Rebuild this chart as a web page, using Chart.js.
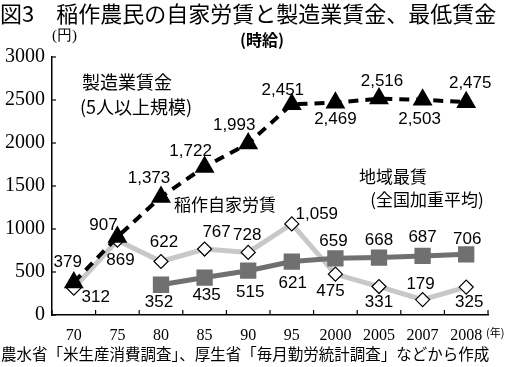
<!DOCTYPE html>
<html>
<head>
<meta charset="utf-8">
<script src="https://cdn.jsdelivr.net/npm/chart.js@4"></script>
<style>
  body { margin: 0; background: #fff; }
  canvas { display: block; }
</style>
</head>
<body>
<canvas id="grafico" width="506" height="367"></canvas>
<script>
const anios = ['70', '75', '80', '85', '90', '95', '2000', '2005', '2007', '2008'];
const seizogyo = [379, 907, 1373, 1722, 1993, 2451, 2469, 2516, 2503, 2475];
const inasaku = [312, 869, 622, 767, 728, 1059, 475, 331, 179, 325];
const saichin = [null, null, 352, 435, 515, 621, 659, 668, 687, 706];
const yTicks = [0, 500, 1000, 1500, 2000, 2500, 3000];

// dónde va cada etiqueta respecto a su punto (dx, dy)
const offSeizo = [[-6, -20], [-14, -12], [-12, -19], [-14, -16], [-14, -18], [-9, -14], [0, 17], [3, -17], [-3, 20], [4, -19]];
const offIna = [[22, 9], [3, 20], [3, -19], [12, -17], [-1, -17], [25, -10], [-5, 17], [0, 16], [-2, -15], [3, 15]];
const offSai = [null, null, [-2, 18], [2, 18], [2, 22], [1, 22], [-2, -17], [0, -17], [0, -19], [1, -15]];

const jp = '"Noto Sans CJK JP", sans-serif';
const fmt = v => v.toLocaleString('en-US');

const textos = {
  id: 'textos',
  afterDraw(chart) {
    const ctx = chart.ctx;
    const x = chart.scales.x, y = chart.scales.y;
    const a = chart.chartArea;
    ctx.save();
    ctx.strokeStyle = '#000';
    ctx.lineWidth = 1.2;
    // marcas del eje y, hacia dentro
    yTicks.forEach(v => {
      const py = y.getPixelForValue(v);
      ctx.beginPath(); ctx.moveTo(a.left, py); ctx.lineTo(a.left + 4, py); ctx.stroke();
    });
    // marcas del eje x entre categorías
    for (let i = 0; i <= anios.length; i++) {
      const px = a.left + (a.right - a.left) * i / anios.length;
      ctx.beginPath(); ctx.moveTo(px, a.bottom); ctx.lineTo(px, a.bottom - 5); ctx.stroke();
    }

    ctx.fillStyle = '#000';
    ctx.textBaseline = 'middle';
    ctx.textAlign = 'left';
    ctx.font = '22px ' + jp;
    ctx.fillText('図3　稲作農民の自家労賃と製造業賃金、最低賃金', 0, 14);
    ctx.textAlign = 'center';
    ctx.font = 'bold 16px ' + jp;
    ctx.fillText('(時給)', 262, 40);
    ctx.textAlign = 'left';
    ctx.font = '15px "Liberation Serif", serif';
    ctx.fillText('(円)', 52, 36);
    ctx.font = '11px ' + jp;
    ctx.fillText('(年)', 486, 333);
    ctx.font = '15.5px ' + jp;
    ctx.fillText('農水省「米生産消費調査」、厚生省「毎月勤労統計調査」などから作成', 1, 354);

    ctx.font = '18px ' + jp;
    ctx.fillText('製造業賃金', 82, 82);
    ctx.fillText('(5人以上規模)', 80, 107);
    ctx.textAlign = 'center';
    ctx.font = '17px ' + jp;
    ctx.fillText('稲作自家労賃', 225, 205);
    ctx.fillText('地域最賃', 393, 177);
    ctx.fillText('(全国加重平均)', 427, 200);

    // etiquetas de valores
    ctx.font = '17px "Liberation Sans", Arial, sans-serif';
    const poner = (datos, offs) => {
      datos.forEach((v, i) => {
        if (v == null) return;
        const px = x.getPixelForValue(i), py = y.getPixelForValue(v);
        ctx.fillText(fmt(v), px + offs[i][0], py + offs[i][1]);
      });
    };
    poner(seizogyo, offSeizo);
    poner(inasaku, offIna);
    poner(saichin, offSai);
    ctx.restore();
  }
};

new Chart(document.getElementById('grafico'), {
  type: 'line',
  data: {
    labels: anios,
    datasets: [
      {
        label: '製造業賃金',
        data: seizogyo,
        borderColor: '#000',
        borderWidth: 4,
        borderDash: [10, 7],
        pointStyle: 'triangle',
        pointRadius: 7.5,
        pointBackgroundColor: '#000',
        pointBorderColor: '#000',
        order: 0
      },
      {
        label: '地域最賃',
        data: saichin,
        borderColor: '#707070',
        borderWidth: 5,
        pointStyle: 'rect',
        pointRadius: 8,
        pointBackgroundColor: '#707070',
        pointBorderColor: '#707070',
        order: 1
      },
      {
        label: '稲作自家労賃',
        data: inasaku,
        borderColor: '#c8c8c8',
        borderWidth: 5,
        pointStyle: 'rectRot',
        pointRadius: 7,
        pointBackgroundColor: '#fff',
        pointBorderColor: '#000',
        pointBorderWidth: 1.2,
        order: 2
      }
    ]
  },
  options: {
    responsive: false,
    animation: false,
    devicePixelRatio: 1,
    layout: { padding: { top: 57, right: 18, left: 0, bottom: 0 } },
    plugins: { legend: { display: false }, tooltip: { enabled: false } },
    scales: {
      x: {
        offset: true,
        grid: { display: false, drawTicks: false },
        border: { display: true, color: '#000', width: 1.5 },
        ticks: { color: '#000', padding: 11, maxRotation: 0, autoSkip: false,
          font: { family: '"Liberation Serif", serif', size: 16 } },
        afterFit: s => { s.height = 52; }
      },
      y: {
        min: 0,
        max: 3000,
        grid: { display: false, drawTicks: false },
        border: { display: true, color: '#000', width: 1.5 },
        ticks: { color: '#000', padding: 7, stepSize: 500,
          callback: v => String(v),
          font: { family: '"Liberation Serif", serif', size: 20 } },
        afterFit: s => { s.width = 52; }
      }
    }
  },
  plugins: [textos]
});
</script>
</body>
</html>
